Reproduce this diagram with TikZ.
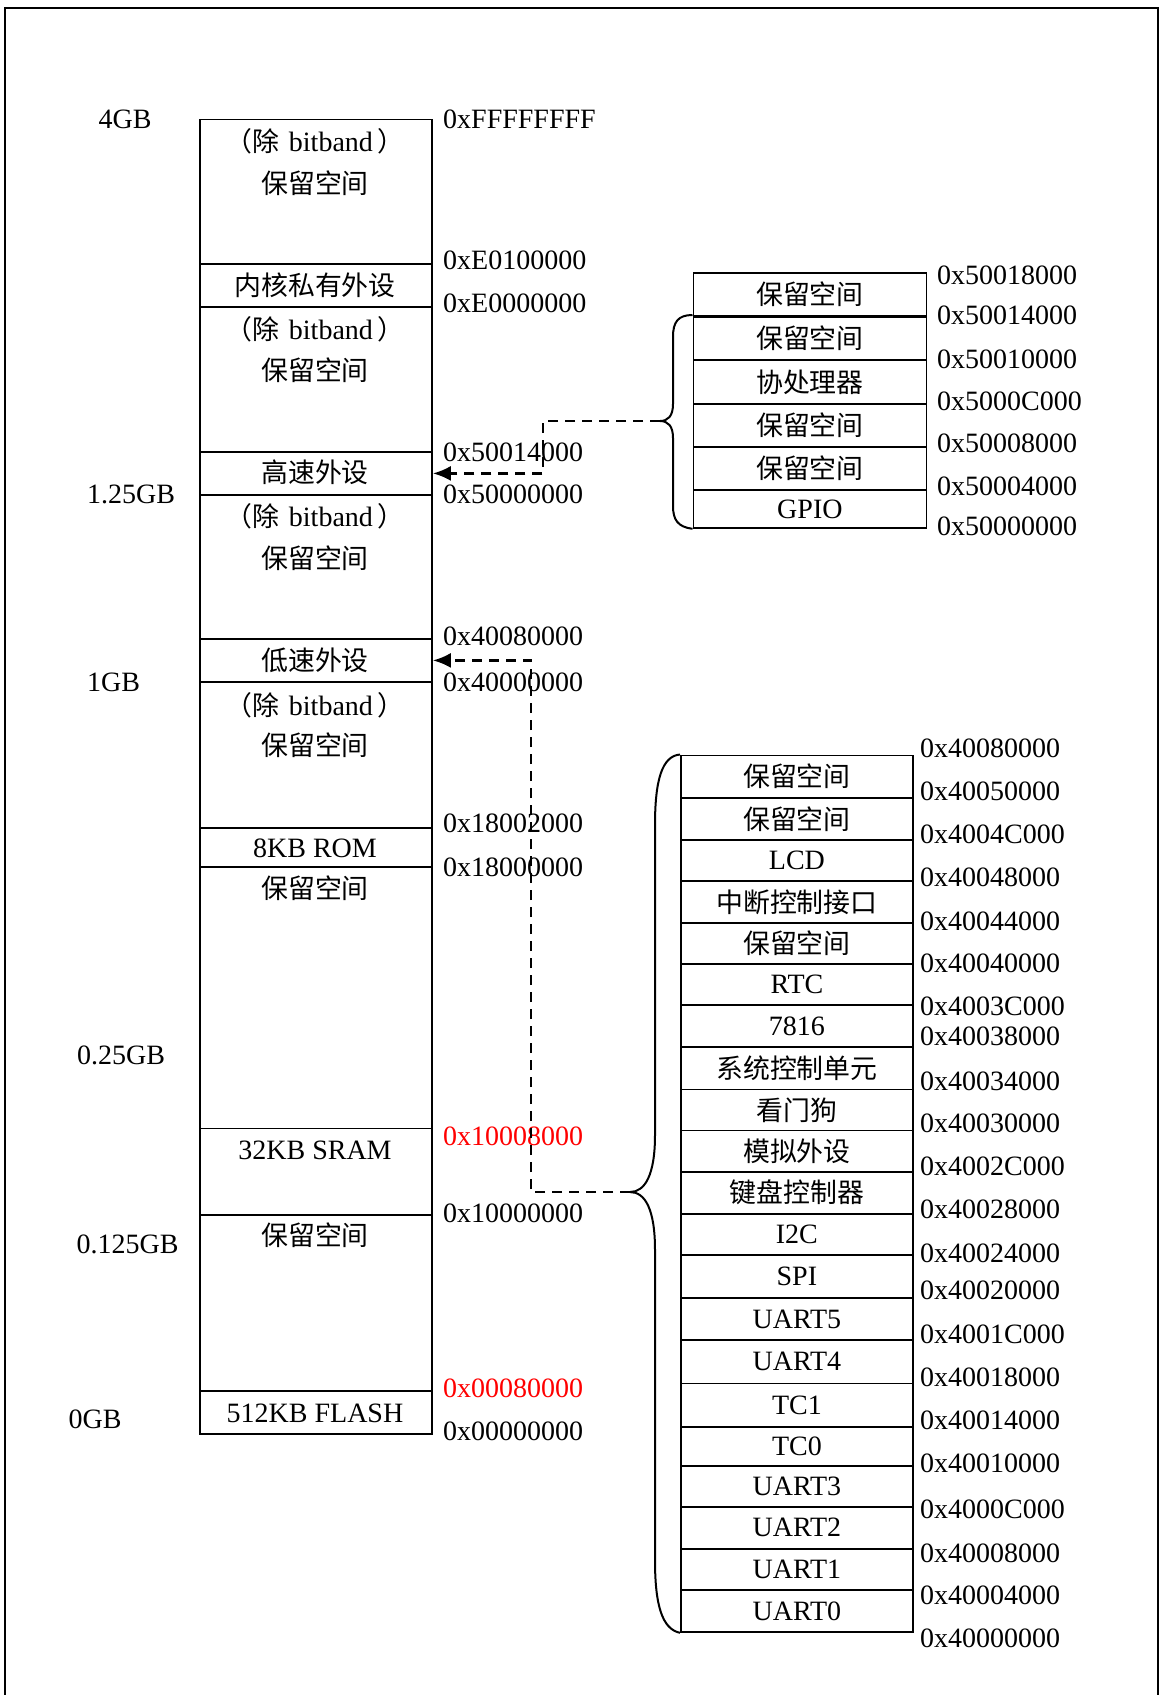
\documentclass[tikz,border=0pt]{standalone}
\usepackage{fontspec}
\setmainfont{Liberation Serif}
\newfontfamily\cjk[Scale=0.96]{Noto Sans CJK SC}
\usetikzlibrary{arrows.meta,positioning,calc}

\newcommand{\zh}[1]{{\cjk #1}}
\newcommand{\nobit}{\zh{（除}\hspace{10pt}bitband\hspace{5pt}\zh{）}}

\begin{document}
\begin{tikzpicture}[x=1pt, y=-1pt,
    font=\fontsize{28}{34}\selectfont,
    cell/.style={draw, line width=1.8pt, inner sep=0pt, anchor=north west}, % one region of a map
    addr/.style={anchor=west, inner sep=0pt}, % address next to a boundary
    hot/.style={addr, text=red},
    link/.style={dash pattern=on 10pt off 7pt, line width=2.6pt, -{Latex[length=18pt,width=15pt]}},
    brc/.style={line width=2pt},
  ]
  \useasboundingbox (0,0) rectangle (1162,1695);
  \draw[line width=2.2pt] (5,1695) -- (5,8) -- (1158,8) -- (1158,1695);

  % main 4GB column
  \foreach \t/\b [count=\i] in {118.5/263, 263/306, 306/451, 451/494, 494/638, 638/681,
      681/827, 827/866, 866/1127.5, 1127.5/1214, 1214/1390, 1390/1433}
    \node[cell, minimum width=232, minimum height=\b-\t] (m\i) at (199,\t) {};
  \foreach \y/\s [count=\i] in {141.6/\nobit, 182.7/\zh{保留空间}, 285/\zh{内核私有外设},
      329.7/\nobit, 369.7/\zh{保留空间}, 472.4/\zh{高速外设}, 516.7/\nobit, 557.8/\zh{保留空间},
      660/\zh{低速外设}, 704.8/\nobit, 744.8/\zh{保留空间}, 848.6/8KB ROM, 888.6/\zh{保留空间},
      1150/32KB SRAM, 1235.6/\zh{保留空间}, 1413/512KB FLASH}
    \node[inner sep=0pt] (c\i) at (315,\y) {\s};
  \foreach \y/\s [count=\i] in {119/0xFFFFFFFF, 260.5/0xE0100000, 303.8/0xE0000000,
      452/0x50014000, 494/0x50000000, 636.7/0x40080000, 682/0x40000000, 823.7/0x18002000,
      867/0x18000000, 1213/0x10000000, 1431/0x00000000}
    \node[addr] (a\i) at (443,\y) {\s};
  \node[hot] (r1) at (443,1136) {0x10008000};
  \node[hot] (r2) at (443,1388) {0x00080000};

  % sizes
  \foreach \x/\y/\s [count=\i] in {125/119/4GB, 131/494/1.25GB, 113.5/682/1GB,
      121/1055/0.25GB, 127.6/1244/0.125GB, 95/1419/0GB}
    \node (g\i) at (\x,\y) {\s};

  % high speed peripherals
  \foreach \t/\b/\s [count=\i] in {272/315/\zh{保留空间}, 315/359/\zh{保留空间}, 359/403/\zh{协处理器},
      403/446/\zh{保留空间}, 446/489/\zh{保留空间}, 489/527/GPIO}
    \node[cell, minimum width=233, minimum height=\b-\t] (u\i) at (692.5,\t) {\s};
  \draw[line width=3pt] (u1.south west) -- (u1.south east);
  \foreach \y/\s [count=\i] in {275/0x50018000, 315.7/0x50014000, 359/0x50010000, 401.7/0x5000C000,
      443.3/0x50008000, 486/0x50004000, 526.7/0x50000000}
    \node[addr] (ua\i) at (937,\y) {\s};

  % low speed peripherals
  \foreach \t/\b/\s [count=\i] in {754.5/796.7/\zh{保留空间}, 796.7/838.9/\zh{保留空间}, 838.9/880/LCD,
      880/922/\zh{中断控制接口}, 922/963/\zh{保留空间}, 963/1004/RTC, 1004/1046/7816,
      1046/1088.6/\zh{系统控制单元}, 1088.6/1129.6/\zh{看门狗}, 1129.6/1170.7/\zh{模拟外设},
      1170.7/1212.9/\zh{键盘控制器}, 1212.9/1254/I2C, 1254/1297/SPI, 1297/1339/UART5,
      1339/1382.6/UART4, 1382.6/1425.8/TC1, 1425.8/1464.8/TC0, 1464.8/1505.8/UART3,
      1505.8/1548/UART2, 1548/1589/UART1, 1589/1631/UART0}
    \node[cell, minimum width=232, minimum height=\b-\t] (l\i) at (680,\t) {\s};
  \foreach \y/\s [count=\i] in {748/0x40080000, 791.3/0x40050000, 834.5/0x4004C000, 877.8/0x40048000,
      921/0x40044000, 963/0x40040000, 1006.4/0x4003C000, 1036/0x40038000, 1081/0x40034000,
      1123/0x40030000, 1166.4/0x4002C000, 1209.6/0x40028000, 1252.9/0x40024000, 1290.7/0x40020000,
      1334/0x4001C000, 1377.2/0x40018000, 1420.4/0x40014000, 1463.7/0x40010000, 1509.6/0x4000C000,
      1553/0x40008000, 1595.5/0x40004000, 1638.5/0x40000000}
    \node[addr] (la\i) at (920,\y) {\s};

  % braces
  \coordinate (ubtip) at (660,421);
  \coordinate (lbtip) at (630,1192);
  \draw[brc] (u2.north west) .. controls (678,315) and (673,322) .. (673,337) -- (673,404)
    .. controls (673,416) and (668,421) .. (ubtip)
    .. controls (668,421) and (673,426) .. (673,438) -- (673,506)
    .. controls (673,520) and (678,527) .. (u6.south west);
  \draw[brc] (l1.north west) .. controls (662,756) and (655,780) .. (655,825) -- (655,1135)
    .. controls (655,1175) and (645,1192) .. (lbtip)
    .. controls (645,1192) and (655,1209) .. (655,1250) -- (655,1560)
    .. controls (655,1605) and (662,1629) .. (l21.south west);

  \draw[link] (ubtip) -- ++(-117,0) |- (m4.east);
  \draw[link] (lbtip) -- ++(-99,0) |- (m6.east);
\end{tikzpicture}
\end{document}
